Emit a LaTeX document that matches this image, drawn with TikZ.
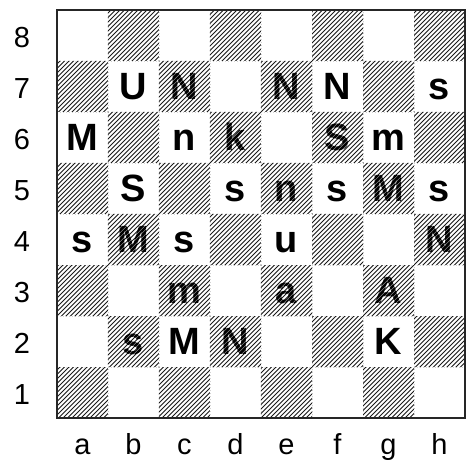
\documentclass[tikz,border=0pt]{standalone}
\usepackage{fontspec}
\setmainfont{Liberation Sans}

\begin{document}
\begin{tikzpicture}[
  x=51pt, y=51pt,
  piece/.style={anchor=base, inner sep=0pt, font=\fontsize{38}{38}\selectfont\bfseries},
  coordlabel/.style={anchor=base, inner sep=0pt, font=\fontsize{29}{29}\selectfont},
  hatch/.style={line width=1.05pt, black!90},
  gap/.style={line width=0.35pt, white},
  grid/.style={gray!35, line width=0.5pt, dash pattern=on 1pt off 2pt},
  frame/.style={line width=2pt, black!85}
]
\useasboundingbox (-57pt,-41pt) rectangle (410pt,418pt);

% square anchors (text baseline inside each square)
\foreach \fl [count=\f from 0] in {a,b,c,d,e,f,g,h}
  \foreach \r in {1,...,8}
    \coordinate (\fl\r) at (\f+0.5, \r-1+0.24);

% faint grid
\foreach \i in {1,...,7} {
  \draw[grid] (\i,0) -- (\i,8);
  \draw[grid] (0,\i) -- (8,\i);
}

% hatched squares
\begin{scope}
  \clip \foreach \j in {0,...,7} { \foreach \i in {0,2,4,6} { ({\i+mod(\j,2)},\j) rectangle ++(1,1) } };
  \foreach \k in {0,...,182}
    \draw[hatch] (\k*4.5pt-408pt,0) -- ++(408pt,408pt);
\end{scope}

% pieces
\node[piece] (pb7) at (b7) {U};
\node[piece] (pc7) at (c7) {N};
\node[piece] (pe7) at (e7) {N};
\node[piece] (pf7) at (f7) {N};
\node[piece] (ph7) at (h7) {s};
\node[piece] (pa6) at (a6) {M};
\node[piece] (pc6) at (c6) {n};
\node[piece] (pd6) at (d6) {k};
\node[piece] (pf6) at (f6) {S};
\node[piece] (pg6) at (g6) {m};
\node[piece] (pb5) at (b5) {S};
\node[piece] (pd5) at (d5) {s};
\node[piece] (pe5) at (e5) {n};
\node[piece] (pf5) at (f5) {s};
\node[piece] (pg5) at (g5) {M};
\node[piece] (ph5) at (h5) {s};
\node[piece] (pa4) at (a4) {s};
\node[piece] (pb4) at (b4) {M};
\node[piece] (pc4) at (c4) {s};
\node[piece] (pe4) at (e4) {u};
\node[piece] (ph4) at (h4) {N};
\node[piece] (pc3) at (c3) {m};
\node[piece] (pe3) at (e3) {a};
\node[piece] (pg3) at (g3) {A};
\node[piece] (pb2) at (b2) {s};
\node[piece] (pc2) at (c2) {M};
\node[piece] (pd2) at (d2) {N};
\node[piece] (pg2) at (g2) {K};

% white gaps running through the pieces on hatched squares
\begin{scope}
  \clip \foreach \j in {0,...,7} { \foreach \i in {0,2,4,6} { ({\i+mod(\j,2)},\j) rectangle ++(1,1) } };
  \foreach \k in {0,...,182}
    \draw[gap] (\k*4.5pt-405.75pt,0) -- ++(408pt,408pt);
\end{scope}

% board edge
\draw[frame] (0,0) rectangle (8,8);

% rank and file labels
\foreach \r in {1,...,8}
  \node[coordlabel] (rank\r) at ([xshift=-35pt]0,\r-1+0.26) {\r};
\foreach \fl [count=\f from 0] in {a,b,c,d,e,f,g,h}
  \node[coordlabel] (file\fl) at (\f+0.5,-36pt) {\fl};

\end{tikzpicture}
\end{document}
